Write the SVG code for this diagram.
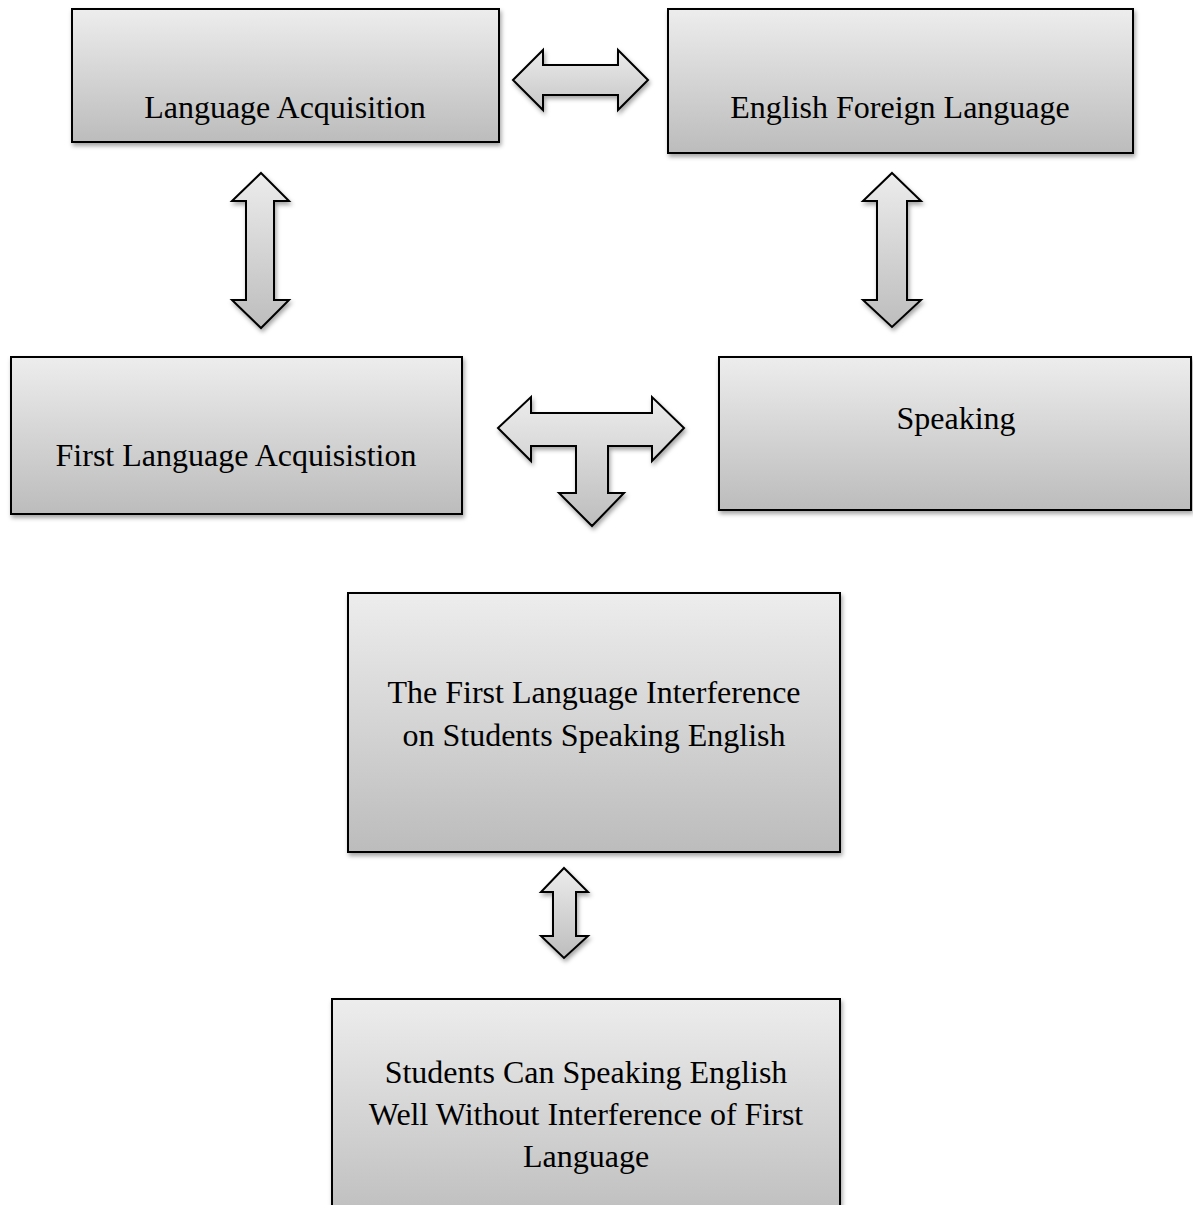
<svg xmlns="http://www.w3.org/2000/svg" width="1193" height="1205" viewBox="0 0 1193 1205">
  <style>
    .box { fill: url(#boxGrad); stroke: #000; stroke-width: 2; filter: url(#shadow); }
    .arrow { fill: url(#arrowGrad); stroke: #000; stroke-width: 2; stroke-linejoin: miter; filter: url(#shadow); }
    .arrowH { fill: url(#arrowGradH); stroke: #000; stroke-width: 2; filter: url(#shadow); }
    .label { font-family: "Liberation Serif", "Times New Roman", serif; font-size: 32px; fill: #000; text-anchor: middle; }
  </style>
  <defs>
    <linearGradient id="boxGrad" x1="0" y1="0" x2="0" y2="1">
      <stop offset="0" stop-color="#ededed"/>
      <stop offset="1" stop-color="#bcbcbc"/>
    </linearGradient>
    <linearGradient id="arrowGrad" x1="0" y1="0" x2="0" y2="1">
      <stop offset="0" stop-color="#ececec"/>
      <stop offset="1" stop-color="#bdbdbd"/>
    </linearGradient>
    <linearGradient id="arrowGradH" x1="0" y1="0" x2="0" y2="1">
      <stop offset="0" stop-color="#ebebeb"/>
      <stop offset="1" stop-color="#c6c6c6"/>
    </linearGradient>
    <filter id="shadow" x="-10%" y="-10%" width="130%" height="130%">
      <feDropShadow dx="1.5" dy="3" stdDeviation="2" flood-color="#000" flood-opacity="0.35"/>
    </filter>
  </defs>
  <rect width="1193" height="1205" fill="#fff"/>

  <g id="connectors">
    <polygon id="arrow-la-efl" class="arrowH" points="513,80 543,50 543,65 618,65 618,50 648,80 618,110 618,95 543,95 543,110"/>
    <polygon id="arrow-la-fla" class="arrow" points="261,173 289,201 274,201 274,300 289,300 261,328 232,300 246,300 246,201 232,201"/>
    <polygon id="arrow-efl-sp" class="arrow" points="892,173 921,201 907,201 907,300 921,300 892,327 863,300 877,300 877,201 863,201"/>
    <polygon id="arrow-t" class="arrow" points="498,428 531,397 531,413 652,413 652,397 684,428 652,461 652,446 608,446 608,493 624,493 592,526 559,493 576,493 576,446 531,446 531,461"/>
    <polygon id="arrow-fli-out" class="arrow" points="564,868 588,892 576,892 576,936 588,936 564,958 541,936 553,936 553,892 541,892"/>
  </g>

  <g id="node-language-acquisition">
    <rect class="box" x="72" y="9" width="427" height="133"/>
    <text class="label" x="285" y="118">Language Acquisition</text>
  </g>
  <g id="node-english-foreign-language">
    <rect class="box" x="668" y="9" width="465" height="144"/>
    <text class="label" x="900" y="118">English Foreign Language</text>
  </g>
  <g id="node-first-language-acquisition">
    <rect class="box" x="11" y="357" width="451" height="157"/>
    <text class="label" x="236" y="466">First Language Acquisistion</text>
  </g>
  <g id="node-speaking">
    <rect class="box" x="719" y="357" width="472" height="153"/>
    <text class="label" x="956" y="429">Speaking</text>
  </g>
  <g id="node-first-language-interference">
    <rect class="box" x="348" y="593" width="492" height="259"/>
    <text class="label" x="594" y="703">The First Language Interference</text>
    <text class="label" x="594" y="746">on Students Speaking English</text>
  </g>
  <g id="node-students-can-speak">
    <rect class="box" x="332" y="999" width="508" height="230"/>
    <text class="label" x="586" y="1083">Students Can Speaking English</text>
    <text class="label" x="586" y="1125">Well Without Interference of First</text>
    <text class="label" x="586" y="1167">Language</text>
  </g>
</svg>
